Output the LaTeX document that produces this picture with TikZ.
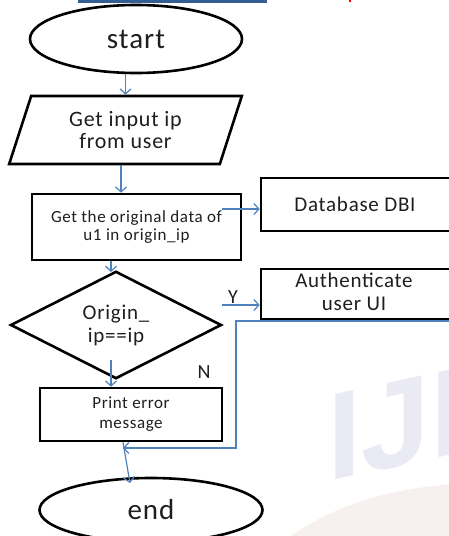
\documentclass[tikz,border=0pt]{standalone}
\usepackage{fontspec}
\setmainfont{Carlito}
\newfontfamily\lbl[LetterSpace=3.5]{Carlito}
\newfontfamily\markfont{Liberation Sans Bold}
\usetikzlibrary{shapes.geometric,arrows.meta}
\definecolor{flowblue}{RGB}{79,129,189}
\definecolor{bartop}{RGB}{52,94,146}
\definecolor{inkgray}{RGB}{30,30,30}
\definecolor{wmark}{RGB}{234,234,244}
\definecolor{wshade}{RGB}{246,241,239}
\tikzset{
  box/.style={draw=black, line width=2.6pt, rectangle, inner sep=0pt, align=center, text=inkgray},
  oval/.style={draw=black, line width=2.6pt, ellipse, inner sep=0pt, text=inkgray},
  flow/.style={draw=flowblue, line width=1.2pt, -{Straight Barb[length=5pt,width=11pt,line width=1.2pt]}},
  tag/.style={inner sep=0pt, text=inkgray, font=\lbl\fontsize{20}{22}\selectfont}
}
\begin{document}
\begin{tikzpicture}[x=1pt, y=-1pt]
  \useasboundingbox (0,0) rectangle (449,536);
  \clip (0,0) rectangle (449,536);

  % faint background watermark
  \fill[wshade] (285,540) .. controls (340,500) and (400,488) .. (455,484) -- (455,540) -- cycle;
  \node[anchor=base west, inner sep=0pt, yslant=0.22, text=wmark,
        font=\markfont\fontsize{124}{124}\selectfont] (wm) at (327,482) {IJE};

  % header remnants
  \fill[bartop] (78,0) rectangle (267,2.5);
  \fill[red] (349,0) rectangle (350.5,1.5);

  % flowchart nodes
  \node[oval, minimum width=212pt, minimum height=68pt, font=\lbl\fontsize{29}{30}\selectfont]
    (start) at (136,39) {start};
  \node[draw=black, line width=2.6pt, trapezium, trapezium left angle=70.6, trapezium right angle=109.4,
        trapezium stretches=true, minimum width=233pt, minimum height=68pt, inner sep=0pt,
        align=center, text=inkgray, font=\lbl\fontsize{22}{22}\selectfont]
    (input) at (125.5,130) {Get input ip\\from user};
  \node[box, minimum width=209pt, minimum height=66pt, font=\lbl\fontsize{17}{18}\selectfont]
    (orig) at (136.5,227) {Get the original data of\\u1 in origin\_ip};
  \node[box, minimum width=198pt, minimum height=53pt, font=\lbl\fontsize{21}{23}\selectfont]
    (db) at (360,204.5) {\hspace*{-10pt}Database DBI};
  \node[draw=black, line width=2.6pt, diamond, minimum width=211pt, minimum height=96pt, inner sep=0pt,
        align=center, text=inkgray, font=\lbl\fontsize{21}{23}\selectfont]
    (check) at (116,325) {Origin\_\\ip==ip};
  \node[box, minimum width=198pt, minimum height=50pt, font=\lbl\fontsize{21}{23}\selectfont]
    (auth) at (360,294) {\hspace*{-12pt}\begin{tabular}{@{}c@{}}Authenticate\\user UI\end{tabular}};
  \node[box, minimum width=182pt, minimum height=53pt, font=\lbl\fontsize{17}{20}\selectfont]
    (print) at (131,414.5) {Print error\\message};
  \node[oval, minimum width=223pt, minimum height=64pt, font=\lbl\fontsize{29}{30}\selectfont]
    (end) at (151,510) {end};

  % branch labels
  \node[tag] (ylab) at (233,297) {Y};
  \node[tag] (nlab) at (204,372) {N};

  % connector end points
  \coordinate (origout) at (222,209);
  \coordinate (yesout) at (222,305);
  \coordinate (noout) at (111,360);
  \coordinate (authout) at (455,321);
  \coordinate (merge) at (123,448);

  % connectors
  \draw[flow] (input.north |- start.south) -- (input.north);
  \draw[flow] ([xshift=-4.5pt]input.south) -- ([xshift=-4.5pt]input.south |- orig.north);
  \draw[flow] (origout) -- (origout -| db.west);
  \draw[flow] ([xshift=-25.5pt]orig.south) -- ([xshift=-5pt, yshift=-2pt]check.north);
  \draw[flow] (yesout) -- (yesout -| auth.west);
  \draw[flow] (noout) -- (noout |- print.north);
  \draw[flow] (authout) -- (236,321) -- (236,448) -- (merge);
  \draw[flow] ([xshift=-8pt]print.south) -- (130,483);
\end{tikzpicture}
\end{document}
